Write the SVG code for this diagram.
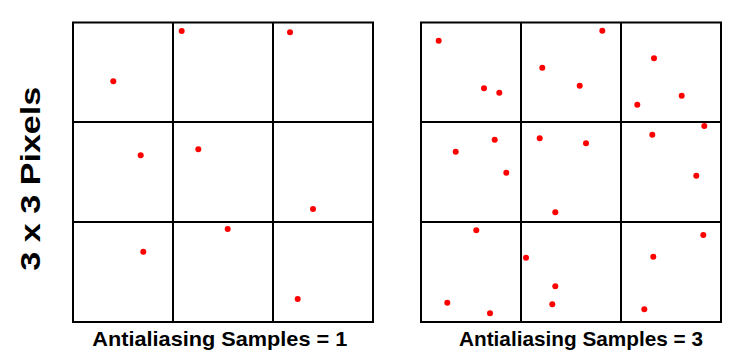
<svg xmlns="http://www.w3.org/2000/svg" width="747" height="358" viewBox="0 0 747 358">
<style>
.grid{fill:none;stroke:#000;stroke-width:2}
.dot{fill:#ff0000}
.lbl{font-family:"Liberation Sans",Arial,sans-serif;font-weight:bold;fill:#000}
</style>
<rect width="747" height="358" fill="#fff"/>
<g id="left-grid">
<path class="grid" d="M73,22.5H373V322H73Z M173,22.5V322 M273,22.5V322 M73,122H373 M73,222H373"/>
<g class="dot">
<circle cx="113.3" cy="81.3" r="3"/>
<circle cx="181.7" cy="31" r="3"/>
<circle cx="290" cy="32.3" r="3"/>
<circle cx="140.7" cy="155.3" r="3"/>
<circle cx="198.3" cy="149.3" r="3"/>
<circle cx="313" cy="209" r="3"/>
<circle cx="143.3" cy="251.7" r="3"/>
<circle cx="227.7" cy="229" r="3"/>
<circle cx="297.7" cy="299" r="3"/>
</g>
</g>
<g id="right-grid">
<path class="grid" d="M421,22.5H721V322H421Z M521,22.5V322 M621,22.5V322 M421,122H721 M421,222H721"/>
<g class="dot">
<circle cx="438.7" cy="40.7" r="3"/>
<circle cx="484" cy="88.3" r="3"/>
<circle cx="499.3" cy="92.7" r="3"/>
<circle cx="602.3" cy="30.7" r="3"/>
<circle cx="542.3" cy="67.7" r="3"/>
<circle cx="579.7" cy="85.7" r="3"/>
<circle cx="654" cy="58.3" r="3"/>
<circle cx="681.7" cy="95.7" r="3"/>
<circle cx="637.3" cy="104.7" r="3"/>
<circle cx="494.7" cy="139.7" r="3"/>
<circle cx="455.7" cy="151.7" r="3"/>
<circle cx="506.3" cy="172.7" r="3"/>
<circle cx="539.7" cy="138.3" r="3"/>
<circle cx="586" cy="143.3" r="3"/>
<circle cx="555.3" cy="212.3" r="3"/>
<circle cx="652.3" cy="134.7" r="3"/>
<circle cx="704.3" cy="126" r="3"/>
<circle cx="696.3" cy="175.7" r="3"/>
<circle cx="476.3" cy="230.3" r="3"/>
<circle cx="447.3" cy="302.7" r="3"/>
<circle cx="490" cy="313.3" r="3"/>
<circle cx="526" cy="257.7" r="3"/>
<circle cx="555.3" cy="286.3" r="3"/>
<circle cx="552.3" cy="304.3" r="3"/>
<circle cx="703.3" cy="235" r="3"/>
<circle cx="653.3" cy="256.7" r="3"/>
<circle cx="644.3" cy="309.3" r="3"/>
</g>
</g>
<g id="labels">
<text class="lbl" x="92.3" y="346" font-size="20.5" textLength="255" lengthAdjust="spacingAndGlyphs">Antialiasing Samples = 1</text>
<text class="lbl" x="459" y="346" font-size="20.5" textLength="244" lengthAdjust="spacingAndGlyphs">Antialiasing Samples = 3</text>
<text class="lbl" transform="translate(39.5,270.7) rotate(-90)" font-size="27.5" textLength="184" lengthAdjust="spacingAndGlyphs">3 x 3 Pixels</text>
</g>
</svg>
